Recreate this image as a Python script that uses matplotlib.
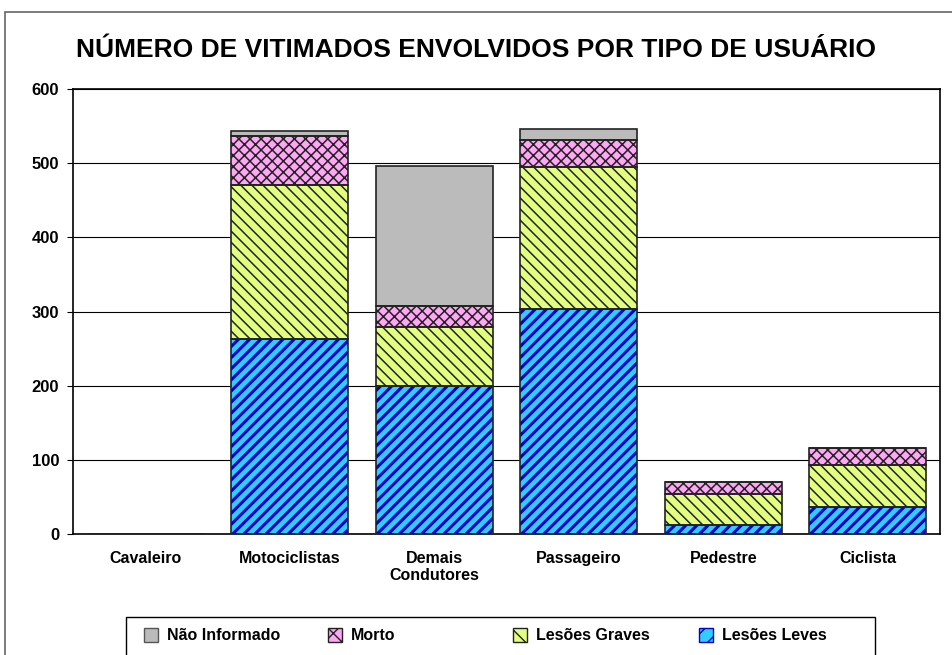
import numpy as np
import matplotlib
matplotlib.use('Agg')
import matplotlib.pyplot as plt
from matplotlib.patches import Rectangle

categorias = ['Cavaleiro', 'Motociclistas', 'Demais\nCondutores', 'Passageiro', 'Pedestre', 'Ciclista']
lesoes_leves = [0, 263, 200, 303, 12, 36]
lesoes_graves = [0, 207, 79, 192, 42, 57]
morto = [0, 67, 28, 36, 16, 23]
nao_informado = [0, 6, 189, 15, 0, 0]

# (nome, valores, cor de fundo, cor da hachura, hachura)
series = [
    ('Lesões Leves', lesoes_leves, '#33CCFF', '#0000CC', '///'),
    ('Lesões Graves', lesoes_graves, '#E2FF80', '#222222', '\\\\\\'),
    ('Morto', morto, '#FFA6F5', '#222222', 'xxx'),
    ('Não Informado', nao_informado, '#BBBBBB', '#BBBBBB', ''),
]

plt.rcParams['font.family'] = ['Liberation Sans', 'DejaVu Sans']
plt.rcParams['font.weight'] = 'bold'

fig = plt.figure(figsize=(9.52, 6.55), dpi=100)
ax = fig.add_axes([73/952, 1 - 534/655, (940-73)/952, (534-89)/655])

x = np.arange(len(categorias))
width = 0.81
base = np.zeros(len(categorias))
for nome, vals, cor, hcor, hatch in series:
    vals = np.array(vals, dtype=float)
    ax.bar(x, vals, width, bottom=base, color=cor, edgecolor='none', zorder=2)
    if hatch:
        lw = 2.2 if hatch == '///' else 1.1
        with plt.rc_context({'hatch.linewidth': lw}):
            ax.bar(x, vals, width, bottom=base, fill=False, edgecolor=hcor,
                   hatch=hatch, linewidth=0, zorder=3)
    ax.bar(x, vals, width, bottom=base, fill=False, edgecolor='#222222',
           linewidth=1.2, zorder=4)
    base += vals

ax.set_ylim(0, 600)
ax.set_xlim(-0.5, len(categorias) - 0.5)
ax.set_yticks(range(0, 601, 100))
ax.yaxis.grid(True, color='black', linewidth=0.8, zorder=0)
ax.set_axisbelow(True)
ax.set_xticks(x)
ax.set_xticklabels(categorias, fontsize=11.5, fontweight='bold')
ax.tick_params(axis='x', length=0, pad=12)
ax.tick_params(axis='y', length=4, labelsize=12, pad=6)
for s in ax.spines.values():
    s.set_color('black')
    s.set_linewidth(1.2)

fig.text(0.5, 1 - 50/655, 'NÚMERO DE VITIMADOS ENVOLVIDOS POR TIPO DE USUÁRIO',
         ha='center', va='center', fontsize=19, fontweight='bold')

# moldura externa
fig.patches.append(Rectangle((5/952, -0.1), 1.1, 1 - 12/655 + 0.1, transform=fig.transFigure,
                             fill=False, edgecolor='#666666', linewidth=1.2))

# legenda desenhada à mão (colunas de largura igual, como no original)
W, H = 952, 655
fig.patches.append(Rectangle((126/W, -0.05), (875-126)/W, 0.05 + 1 - 617/H,
                             transform=fig.transFigure, fill=False,
                             edgecolor='black', linewidth=1.0))
leg_x = [144, 328, 513, 699]
for (nome, vals, cor, hcor, hatch), lx in zip(reversed(series), leg_x):
    with plt.rc_context({'hatch.linewidth': 1.0}):
        fig.patches.append(Rectangle((lx/W, 1 - 642/H), 14/W, 14/H, transform=fig.transFigure,
                                     facecolor=cor, edgecolor=hcor if hatch else '#555555',
                                     hatch=hatch[:2], linewidth=1.0))
    fig.text((lx + 23)/W, 1 - 635/H, nome, ha='left', va='center', fontsize=11.5,
             fontweight='bold')

fig.savefig('out.png', dpi=100)
